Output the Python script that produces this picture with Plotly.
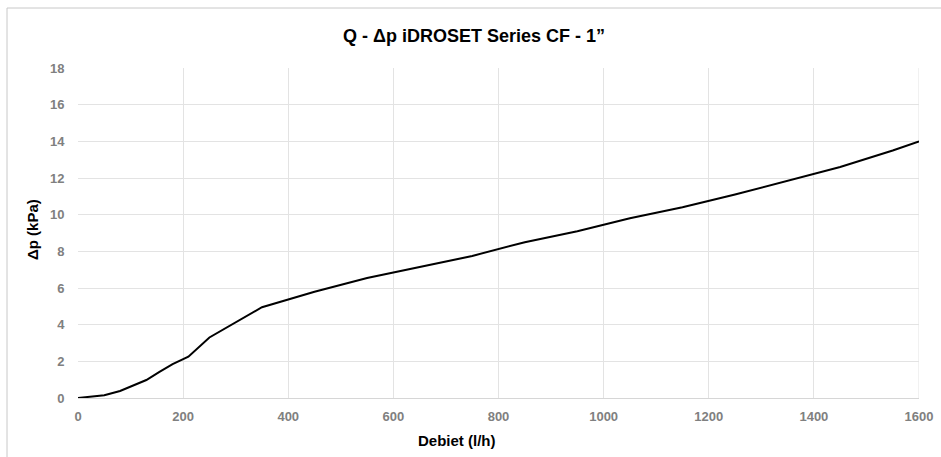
import plotly.graph_objects as go

# Data
flow_lh = [0, 50, 80, 130, 155, 180, 210, 250, 350, 450, 550, 650, 750, 850, 950,
           1050, 1150, 1250, 1350, 1450, 1550, 1600]
dp_kpa = [0, 0.15, 0.38, 0.98, 1.43, 1.85, 2.25, 3.3, 4.95, 5.8, 6.55, 7.15, 7.75, 8.5,
          9.1, 9.8, 10.4, 11.1, 11.85, 12.6, 13.5, 14.0]

x_ticks = [0, 200, 400, 600, 800, 1000, 1200, 1400, 1600]
y_ticks = [0, 2, 4, 6, 8, 10, 12, 14, 16, 18]

title_text = "Q - Δp iDROSET Series CF - 1”"
x_title = "Debiet (l/h)"
y_title = "Δp (kPa)"

W, H = 941, 457
ML, MR, MT, MB = 78, 22, 68, 59
PW, PH = W - ML - MR, H - MT - MB

def px2paper_x(px):
    return (px - ML) / PW

def py2paper_y(py):
    return (H - MB - py) / PH

FONT = "Liberation Sans, Arial, Helvetica, sans-serif"
TICK_FONT = dict(family=FONT, size=13, color="#808080", weight="bold")

fig = go.Figure()
fig.add_trace(go.Scatter(x=flow_lh, y=dp_kpa, mode="lines",
                         line=dict(color="#000000", width=2), showlegend=False,
                         hoverinfo="skip"))

grid = "#e3e3e3"
fig.update_layout(
    template="none",
    width=W, height=H, autosize=False,
    margin=dict(l=ML, r=MR, t=MT, b=MB, pad=0, autoexpand=False),
    paper_bgcolor="white", plot_bgcolor="white",
    font=dict(family=FONT),
    showlegend=False,
    xaxis=dict(range=[0, 1600], tickvals=x_ticks, showgrid=True, gridcolor=grid,
               gridwidth=1, zeroline=False, showline=True, linecolor="#d6d6d6",
               linewidth=1, automargin=False,
               ticks="outside", ticklen=6, tickcolor="rgba(0,0,0,0)",
               tickfont=TICK_FONT),
    yaxis=dict(range=[0, 18], tickvals=y_ticks, showgrid=True, gridcolor=grid,
               gridwidth=1, zeroline=False, showline=False, automargin=False,
               ticks="outside", ticklen=10, tickcolor="rgba(0,0,0,0)",
               tickfont=TICK_FONT),
)

fig.add_shape(type="line", xref="x", yref="y", x0=1600, x1=1600, y0=0, y1=18,
              line=dict(color=grid, width=1), layer="below")

fig.add_annotation(text="<b>" + title_text + "</b>", xref="paper", yref="paper",
                   x=px2paper_x(474), y=py2paper_y(36), showarrow=False,
                   xanchor="center", yanchor="middle",
                   font=dict(family=FONT, size=18, color="#000000"))
fig.add_annotation(text="<b>" + x_title + "</b>", xref="paper", yref="paper",
                   x=px2paper_x(457), y=py2paper_y(440), showarrow=False,
                   xanchor="center", yanchor="middle",
                   font=dict(family=FONT, size=15, color="#000000"))
fig.add_annotation(text="<b>" + y_title + "</b>", xref="paper", yref="paper",
                   x=px2paper_x(32), y=py2paper_y(230), showarrow=False, textangle=-90,
                   xanchor="center", yanchor="middle",
                   font=dict(family=FONT, size=15, color="#000000"))

fig.add_shape(type="line", xref="paper", yref="paper",
              x0=px2paper_x(7), x1=px2paper_x(945), y0=py2paper_y(8), y1=py2paper_y(8),
              line=dict(color="#c8c8c8", width=1))
fig.add_shape(type="line", xref="paper", yref="paper",
              x0=px2paper_x(7), x1=px2paper_x(7), y0=py2paper_y(8), y1=py2paper_y(460),
              line=dict(color="#c8c8c8", width=1))

fig.write_html("out.html", config={"displayModeBar": False},
               post_script="document.body.style.margin='0';document.body.style.overflow='hidden';")
